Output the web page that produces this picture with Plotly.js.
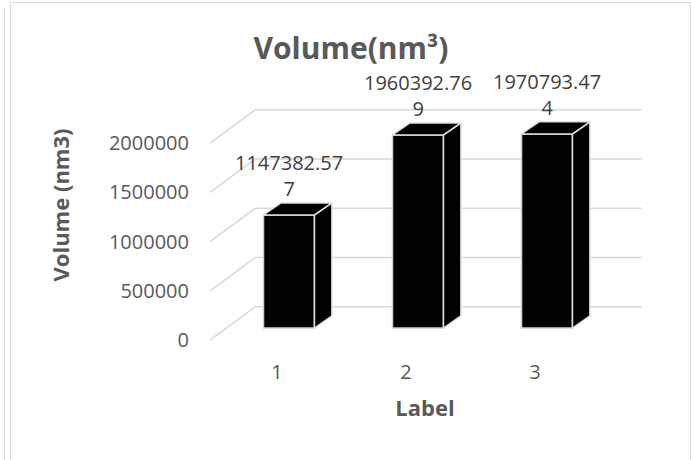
<!DOCTYPE html>
<html>
<head>
<meta charset="utf-8">
<script src="https://cdn.plot.ly/plotly-3.0.1.min.js"></script>
<style>
  html, body { margin: 0; padding: 0; background: #ffffff; }
  #wrap { position: relative; width: 691px; height: 460px; overflow: hidden; }
  #chart { position: absolute; left: 0; top: 0; width: 691px; height: 460px; }
  .frame { position: absolute; pointer-events: none; border: 0 solid #d9d9d9; }
</style>
</head>
<body>
<div id="wrap">
  <div id="chart"></div>
  <div class="frame" style="left:4px; top:8px; height:460px; border-left-width:1.5px;"></div>
  <div class="frame" style="left:10px; top:2px; width:679px; height:470px; border-left-width:1.5px; border-top-width:1.5px; border-right-width:1.5px;"></div>
</div>
<script>
// Chart data
const categories = [1, 2, 3];
const categoryLabels = ['1', '2', '3'];
const volumes = [1147382.577, 1960392.769, 1970793.474];
const yTickValues = [0, 500000, 1000000, 1500000, 2000000];

// 3-D look: bar width and depth (data units)
const BAR_W = 0.395;
const DEPTH_X = 0.135;
const DEPTH_Y = 122000;

// Back wall / floor placement for the gridlines (data units)
const WALL_LEFT = 0.737;
const WALL_RIGHT = 3.736;
const WALL_SHIFT = 215000;
const FRONT_LEFT = 0.388;
const FRONT_SHIFT = -122000;

const TEXT_GREY = '#595959';
const FONT = 'Open Sans, sans-serif';

// Side and top faces for each bar
const sideX = [], sideY = [], topX = [], topY = [];
categories.forEach((c, i) => {
  const v = volumes[i];
  const l = c - BAR_W / 2, r = c + BAR_W / 2;
  sideX.push(r, r + DEPTH_X, r + DEPTH_X, r, r, null);
  sideY.push(0, DEPTH_Y, v + DEPTH_Y, v, 0, null);
  topX.push(l, l + DEPTH_X, r + DEPTH_X, r, l, null);
  topY.push(v, v + DEPTH_Y, v + DEPTH_Y, v, v, null);
});

const faceStyle = {
  type: 'scatter', mode: 'lines', fill: 'toself', fillcolor: '#000000',
  line: { color: '#e0e0e0', width: 1.5 }, hoverinfo: 'skip', showlegend: false,
  xaxis: 'x', yaxis: 'y'
};

const traces = [
  {
    type: 'bar', x: categories, y: volumes, width: BAR_W,
    marker: { color: '#000000', line: { color: '#d0d0d0', width: 1.5 } },
    hoverinfo: 'x+y', showlegend: false, xaxis: 'x', yaxis: 'y'
  },
  Object.assign({ x: sideX, y: sideY }, faceStyle),
  Object.assign({ x: topX, y: topY }, faceStyle)
];

// Gridlines along the back wall, with the diagonal run to the front
const shapes = [];
yTickValues.forEach(t => {
  shapes.push({
    type: 'line', layer: 'below', xref: 'x', yref: 'y',
    x0: FRONT_LEFT, y0: t + FRONT_SHIFT, x1: WALL_LEFT, y1: t + WALL_SHIFT,
    line: { color: '#d9d9d9', width: 1.6 }
  });
  shapes.push({
    type: 'line', layer: 'below', xref: 'x', yref: 'y',
    x0: WALL_LEFT, y0: t + WALL_SHIFT, x1: WALL_RIGHT, y1: t + WALL_SHIFT,
    line: { color: '#d9d9d9', width: 1.6 }
  });
});

// Value labels, wrapped after ten characters
const annotations = categories.map((c, i) => {
  const s = String(volumes[i]);
  return {
    x: c, y: volumes[i], xref: 'x', yref: 'y',
    text: s.slice(0, 10) + '<br>' + s.slice(10),
    showarrow: false, xanchor: 'center', yanchor: 'bottom', yshift: 11,
    font: { family: FONT, size: 20, color: '#404040' }
  };
});

const layout = {
  width: 691, height: 460,
  margin: { l: 190, r: 31, t: 60, b: 110 },
  paper_bgcolor: 'rgba(0,0,0,0)', plot_bgcolor: 'rgba(0,0,0,0)',
  font: { family: FONT, color: TEXT_GREY },
  title: {
    text: '<b>Volume(nm³)</b>', x: 0.508, xref: 'container', xanchor: 'center',
    y: 0.894, yref: 'container', yanchor: 'middle',
    font: { family: FONT, size: 30, color: TEXT_GREY }
  },
  xaxis: {
    range: [0.2326, 3.876], showgrid: false, zeroline: false,
    showticklabels: false, showline: false, fixedrange: true
  },
  yaxis: {
    range: [-223350, 2720800], showgrid: false, zeroline: false,
    showticklabels: false, showline: false, fixedrange: true
  },
  xaxis2: {
    overlaying: 'x', anchor: 'y2', side: 'bottom',
    range: [0.3256, 3.969], tickmode: 'array', tickvals: categories, ticktext: categoryLabels,
    showgrid: false, zeroline: false, showline: false, ticks: '',
    tickfont: { family: FONT, size: 20, color: TEXT_GREY }, ticklabelstandoff: 8,
    title: { text: '<b>Label</b>', standoff: 16, font: { family: FONT, size: 22, color: TEXT_GREY } },
    automargin: false
  },
  yaxis2: {
    overlaying: 'y', anchor: 'x2', side: 'left',
    range: [-101500, 2842600], tickmode: 'array', tickvals: yTickValues,
    ticktext: yTickValues.map(v => String(v)),
    showgrid: false, zeroline: false, showline: false, ticks: '',
    tickfont: { family: FONT, size: 20, color: TEXT_GREY },
    title: { text: '<b>Volume (nm3)</b>', standoff: 33, font: { family: FONT, size: 22, color: TEXT_GREY } },
    automargin: false
  },
  shapes: shapes,
  annotations: annotations,
  showlegend: false
};

// Invisible anchor trace so the overlaid label axes are laid out
traces.push({
  type: 'scatter', mode: 'markers', x: [categories[0]], y: [yTickValues[0]],
  xaxis: 'x2', yaxis: 'y2', marker: { opacity: 0 }, hoverinfo: 'skip', showlegend: false
});

Plotly.newPlot('chart', traces, layout, { displayModeBar: false, staticPlot: true });
</script>
</body>
</html>
